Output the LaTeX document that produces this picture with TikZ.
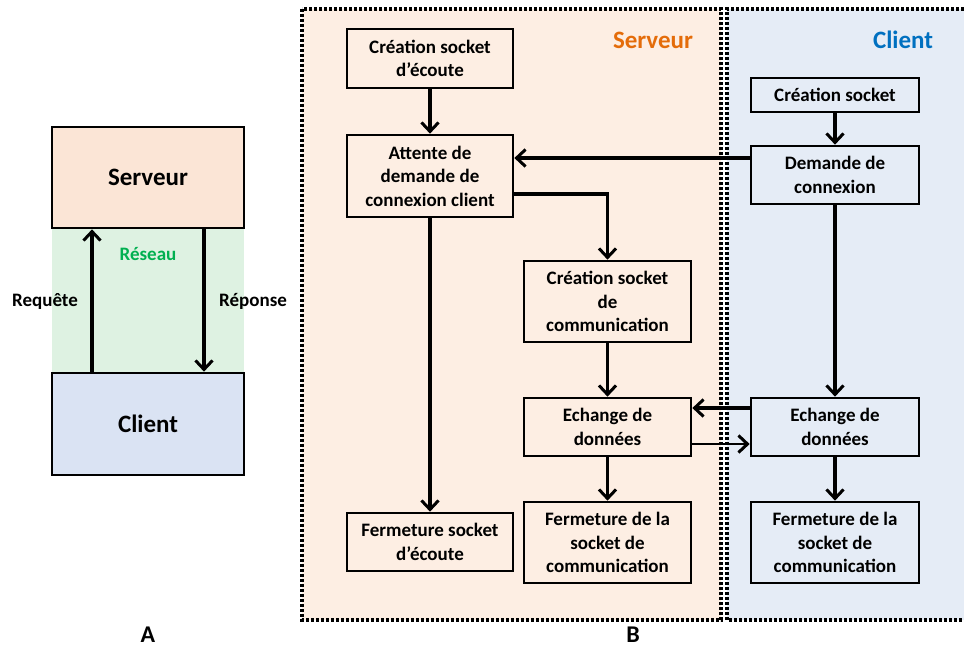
\documentclass[tikz,border=0pt]{standalone}
\usepackage{fontspec}
\setmainfont{Carlito}
\usepackage{xcolor}
\usepackage{tikz}
\usetikzlibrary{arrows.meta, positioning, calc}
\definecolor{servfill}{RGB}{251, 229, 214}
\definecolor{servzone}{RGB}{253, 238, 227}
\definecolor{clifill}{RGB}{218, 227, 243}
\definecolor{clizone}{RGB}{229, 236, 246}
\definecolor{netfill}{RGB}{222, 242, 226}
\definecolor{netgreen}{RGB}{0, 176, 80}
\definecolor{servorange}{RGB}{228, 108, 10}
\definecolor{cliblue}{RGB}{0, 112, 192}

\begin{document}
\begin{tikzpicture}[x=1pt, y=-1pt,
    every node/.style={font=\bfseries\fontsize{19}{23.5}\selectfont},
    etape/.style={draw, line width=2.7pt, fill=#1, align=center, inner sep=0pt},
    arr/.style={line width=3.2pt, -{Straight Barb[length=9pt, width=17pt, line width=3pt]}},
    zone/.style={line width=3.2pt, dash pattern=on 2.6pt off 2.4pt}]
  \useasboundingbox (0,0) rectangle (964,648);

  % --- A : schema client / serveur
  \fill[netfill] (52,228) rectangle (244,374);
  \node[etape=servfill, minimum width=192pt, minimum height=101pt,
        font=\bfseries\fontsize{25}{30}\selectfont] (srv) at (148,177.5) {Serveur};
  \node[etape=clifill, minimum width=192pt, minimum height=102pt,
        font=\bfseries\fontsize{25}{30}\selectfont] (cli) at (148,424) {Client};
  \node[text=netgreen] (reseau) at (148,254) {Réseau};
  \draw[arr] ([xshift=-56pt]cli.north) -- ([xshift=-56pt]srv.south);
  \draw[arr] ([xshift=56pt]srv.south) -- ([xshift=56pt]cli.north);
  \node (req) at (45,302) {Requête};
  \node (rep) at (253,301) {Réponse};
  \node[font=\bfseries\fontsize{24}{28}\selectfont] (lblA) at (148,635) {A};

  % --- B : zones serveur et client
  \fill[servzone] (302,9) rectangle (721,620);
  \draw[zone] (302,9) rectangle (721,620);
  \fill[clizone] (964,9) -- (727,9) -- (727,620) -- (964,620);
  \draw[zone] (964,9) -- (727,9) -- (727,620) -- (964,620);
  \node[text=servorange, font=\bfseries\fontsize{25}{30}\selectfont] (tsrv) at (653,40) {Serveur};
  \node[text=cliblue, font=\bfseries\fontsize{25}{30}\selectfont] (tcli) at (903,40) {Client};
  \node[font=\bfseries\fontsize{24}{28}\selectfont] (lblB) at (633,635) {B};

  % etapes du serveur
  \node[etape=servzone, minimum width=166pt, minimum height=59pt] (ecoute) at (430,58.5) {Création socket\\d’écoute};
  \node[etape=servzone, minimum width=166pt, minimum height=82pt] (attente) at (430,176) {Attente de\\demande de\\connexion client};
  \node[etape=servzone, minimum width=167pt, minimum height=81pt] (creacom) at (607.5,301.5) {Création socket\\de\\communication};
  \node[etape=servzone, minimum width=167pt, minimum height=58pt] (echS) at (607.5,427) {Echange de\\données};
  \node[etape=servzone, minimum width=167pt, minimum height=81pt] (fermS) at (607.5,542.5) {Fermeture de la\\socket de\\communication};
  \node[etape=servzone, minimum width=166pt, minimum height=58pt] (fermE) at (430,542) {Fermeture socket\\d’écoute};

  % etapes du client
  \node[etape=clizone, minimum width=168pt, minimum height=34pt] (creaC) at (835,95) {Création socket};
  \node[etape=clizone, minimum width=168pt, minimum height=58pt] (demC) at (835,175) {Demande de\\connexion};
  \node[etape=clizone, minimum width=168pt, minimum height=58pt] (echC) at (835,427) {Echange de\\données};
  \node[etape=clizone, minimum width=168pt, minimum height=81pt] (fermC) at (835,542.5) {Fermeture de la\\socket de\\communication};

  % enchainements verticaux
  \foreach \a/\b in {ecoute/attente, attente/fermE, creacom/echS, echS/fermS,
                     creaC/demC, demC/echC, echC/fermC}{
    \draw[arr] (\a) -- (\b);
  }
  % liaisons entre client et serveur
  \draw[arr] ([yshift=17pt]demC.west) -- ([yshift=17pt]demC.west -| attente.east);
  \draw[arr] ([yshift=-18pt]attente.east) -| (creacom.north);
  \draw[arr] ([yshift=19pt]echC.west) -- ([yshift=19pt]echC.west -| echS.east);
  \draw[arr, line width=2.4pt] ([yshift=-17pt]echS.east) -- ([yshift=-17pt]echS.east -| echC.west);
\end{tikzpicture}
\end{document}
